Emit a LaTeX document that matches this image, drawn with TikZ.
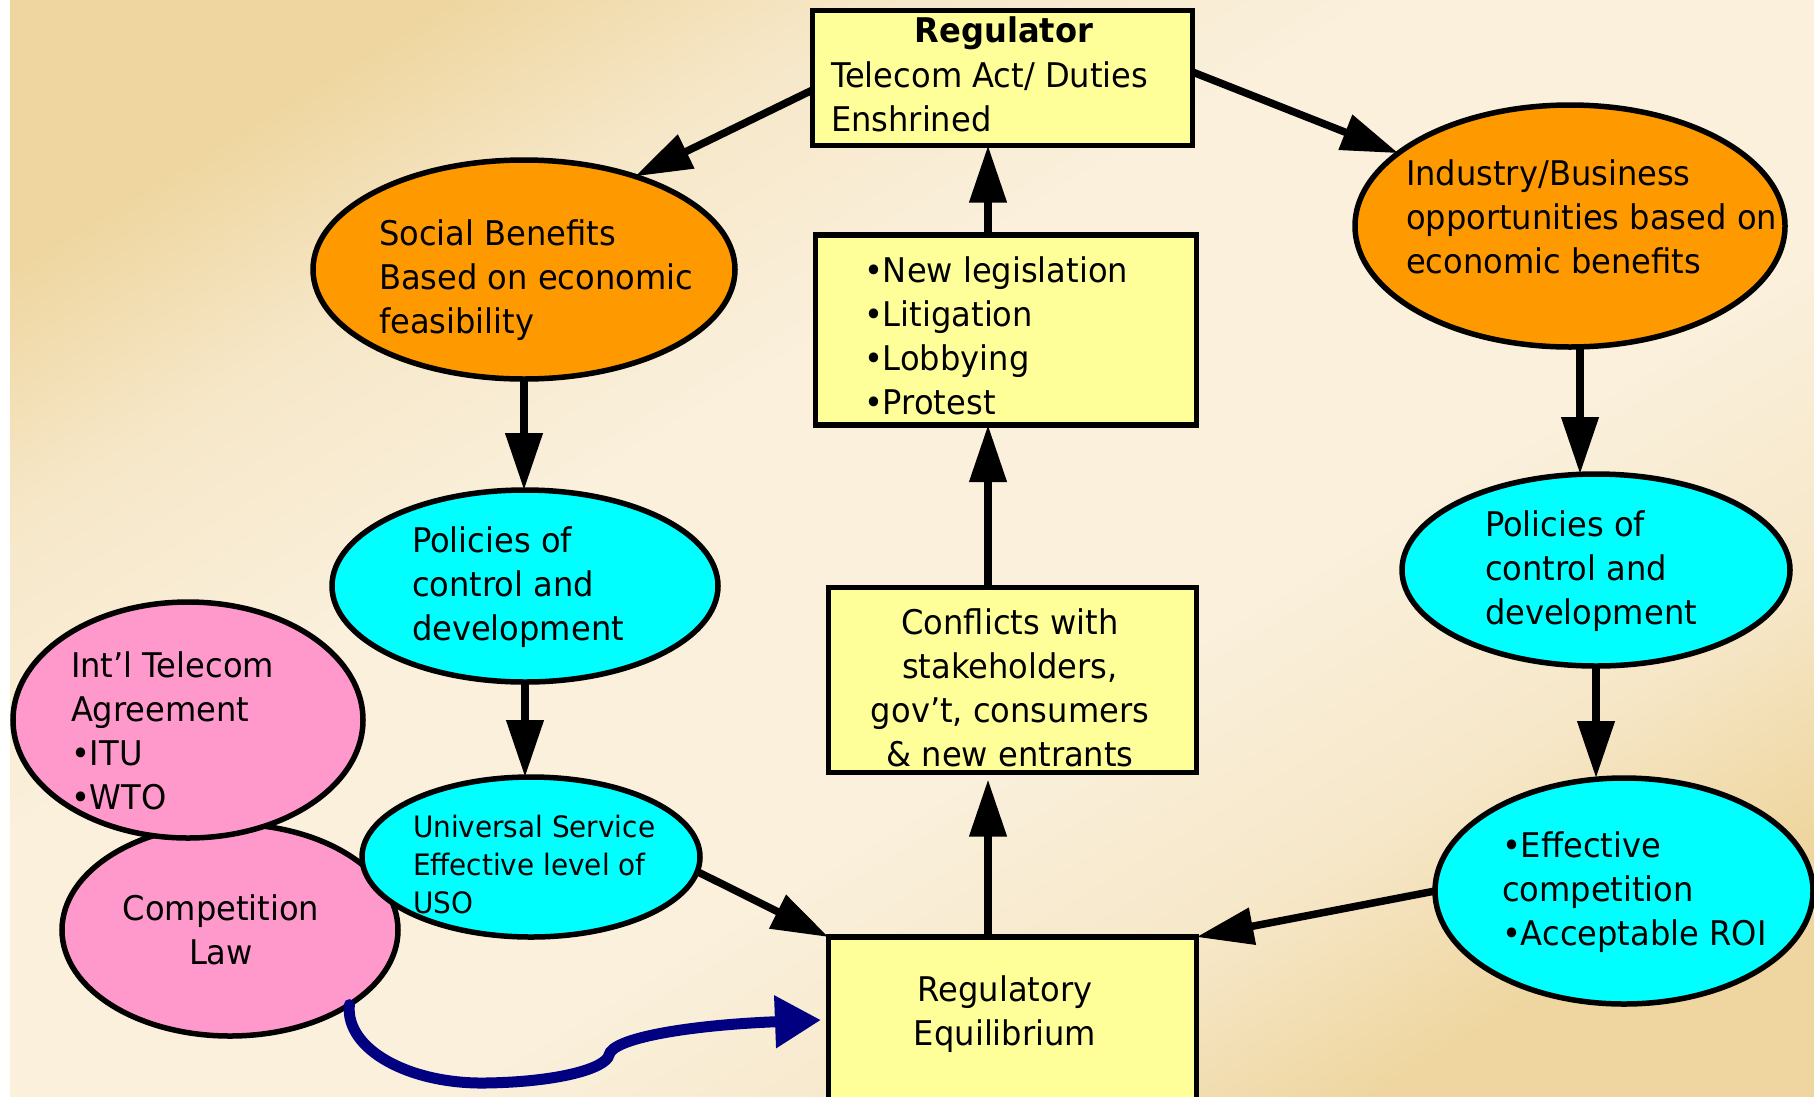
\documentclass[tikz,border=0pt]{standalone}
\usepackage{fontspec}
\setmainfont{DejaVu Sans}[FakeStretch=0.945]
\usetikzlibrary{arrows.meta,shapes.geometric}

\definecolor{boxyellow}{HTML}{FFFF99}
\definecolor{benefitorange}{HTML}{FF9900}
\definecolor{policycyan}{HTML}{00FFFF}
\definecolor{lawpink}{HTML}{FF99CC}
\definecolor{curvenavy}{HTML}{000080}
\definecolor{bgtan}{HTML}{EFD6A0}
\definecolor{bgmid}{HTML}{F6E7C8}
\definecolor{bgcream}{HTML}{FAF0DC}

% diagonal backdrop: tan corners, pale cream across the middle
\pgfdeclarehorizontalshading{backdrop}{100bp}{%
  color(0bp)=(bgtan); color(24bp)=(bgtan); color(32bp)=(bgmid);
  color(42bp)=(bgcream); color(58bp)=(bgcream); color(68bp)=(bgmid);
  color(76bp)=(bgtan); color(100bp)=(bgtan)}

% multi-line text whose baseline is that of its first line
\newcommand{\stack}[2]{\begin{tabular}[t]{@{}#1@{}}#2\end{tabular}}

\begin{document}
\begin{tikzpicture}[x=1pt,y=-1pt,
  every node/.style={inner sep=0pt, outer sep=0pt},
  oval/.style={ellipse, draw=black, line width=5.5pt},
  panel/.style={rectangle, draw=black, line width=5.5pt, fill=boxyellow},
  txt/.style={font=\fontsize{34}{44}\selectfont, anchor=base west},
  smalltxt/.style={font=\fontsize{29.5}{38}\selectfont, anchor=base west},
  arrowline/.style={draw=black, line width=7.5pt, -{Triangle[length=57pt,width=36pt]}},
  curvearrow/.style={draw=curvenavy, line width=11pt, line cap=round,
    -{Triangle[length=46pt,width=50pt]}}
]
% canvas and background
\useasboundingbox (0,0) rectangle (1814,1096);
\fill[white] (0,0) rectangle (10,1096);
\shade[shading=backdrop, shading angle=-58.7] (10,0) rectangle (1814,1096);

% ellipses
\node[oval, fill=benefitorange, minimum width=422pt, minimum height=219pt] (sb) at (524,269.5) {};
\node[oval, fill=benefitorange, minimum width=430pt, minimum height=242pt] (ind) at (1570,226) {};
\node[oval, fill=policycyan, minimum width=386pt, minimum height=192pt] (polL) at (525,586) {};
\node[oval, fill=policycyan, minimum width=388pt, minimum height=192pt] (polR) at (1596,570) {};
\node[oval, fill=policycyan, minimum width=378pt, minimum height=226pt] (eff) at (1624,891) {};
\node[oval, fill=lawpink, minimum width=336pt, minimum height=212pt] (comp) at (230,930) {};
\node[oval, fill=policycyan, minimum width=338pt, minimum height=160pt] (uso) at (531,857) {};
\node[oval, fill=lawpink, minimum width=350pt, minimum height=236pt] (intl) at (188,720) {};

% boxes
\node[panel, minimum width=380pt, minimum height=135pt] (reg) at (1002.5,78) {};
\node[panel, minimum width=381pt, minimum height=190pt] (leg) at (1006,330) {};
\node[panel, minimum width=368pt, minimum height=185pt] (conf) at (1012.5,680) {};
\node[panel, minimum width=368pt, minimum height=182pt] (eq) at (1012.5,1028) {};

% texts
\node[txt, anchor=base, font=\fontsize{34}{44}\selectfont\bfseries] (reg-title) at (1004,42) {Regulator};
\node[txt] (reg-text) at (831,87) {\stack{l}{Telecom Act/ Duties\\Enshrined}};
\node[txt] (sb-text) at (379,245) {\stack{l}{Social Benefits\\Based on economic\\feasibility}};
\node[txt] (ind-text) at (1406,185) {\stack{l}{Industry/Business\\opportunities based on\\economic benefits}};
\node[txt] (leg-text) at (864,282) {\stack{l}{•New legislation\\•Litigation\\•Lobbying\\•Protest}};
\node[txt, anchor=base] (conf-text) at (1010,634) {\stack{c}{Conflicts with\\stakeholders,\\gov’t, consumers\\\& new entrants}};
\node[txt, anchor=base] (eq-text) at (1005,1001) {\stack{c}{Regulatory\\Equilibrium}};
\node[txt] (polL-text) at (412,552) {\stack{l}{Policies of\\control and\\development}};
\node[txt] (polR-text) at (1485,536) {\stack{l}{Policies of\\control and\\development}};
\node[txt] (eff-text) at (1502,857) {\stack{l}{•Effective\\competition\\•Acceptable ROI}};
\node[txt] (intl-text) at (71,677) {\stack{l}{Int’l Telecom\\Agreement\\•ITU\\•WTO}};
\node[txt, anchor=base] (comp-text) at (221,920) {\stack{c}{Competition\\Law}};
\node[smalltxt] (uso-text) at (413,837) {\stack{l}{Universal Service\\Effective level of\\USO}};

% connectors
\coordinate (spine) at (988,0);
\coordinate (rightdrop) at (1580,0);
\coordinate (curveend) at (821,1020);

\draw[arrowline] ([yshift=-12pt]reg.west) -- (sb.40);
\draw[arrowline] ([yshift=6pt]reg.east) -- (ind.157);
\draw[arrowline] (spine |- leg.north) -- (spine |- reg.south);
\draw[arrowline] (spine |- conf.north) -- (spine |- leg.south);
\draw[arrowline, shorten >=7pt] (spine |- eq.north) -- (spine |- conf.south);
\draw[arrowline] (sb.south) -- (sb.south |- polL.north);
\draw[arrowline] (polL.south) -- (polL.south |- uso.north);
\draw[arrowline] (uso.-5) -- (eq.north west);
\draw[arrowline] (rightdrop |- ind.south) -- (rightdrop |- polR.north);
\draw[arrowline] (polR.south) -- (polR.south |- eff.north);
\draw[arrowline] (eff.west) -- (eq.north east);

\draw[curvearrow] (comp.-32) .. controls (345,1050) and (410,1084) .. (485,1083)
  .. controls (560,1082) and (606,1068) .. (609,1055)
  .. controls (612,1038) and (690,1025) .. (curveend);
\end{tikzpicture}
\end{document}
